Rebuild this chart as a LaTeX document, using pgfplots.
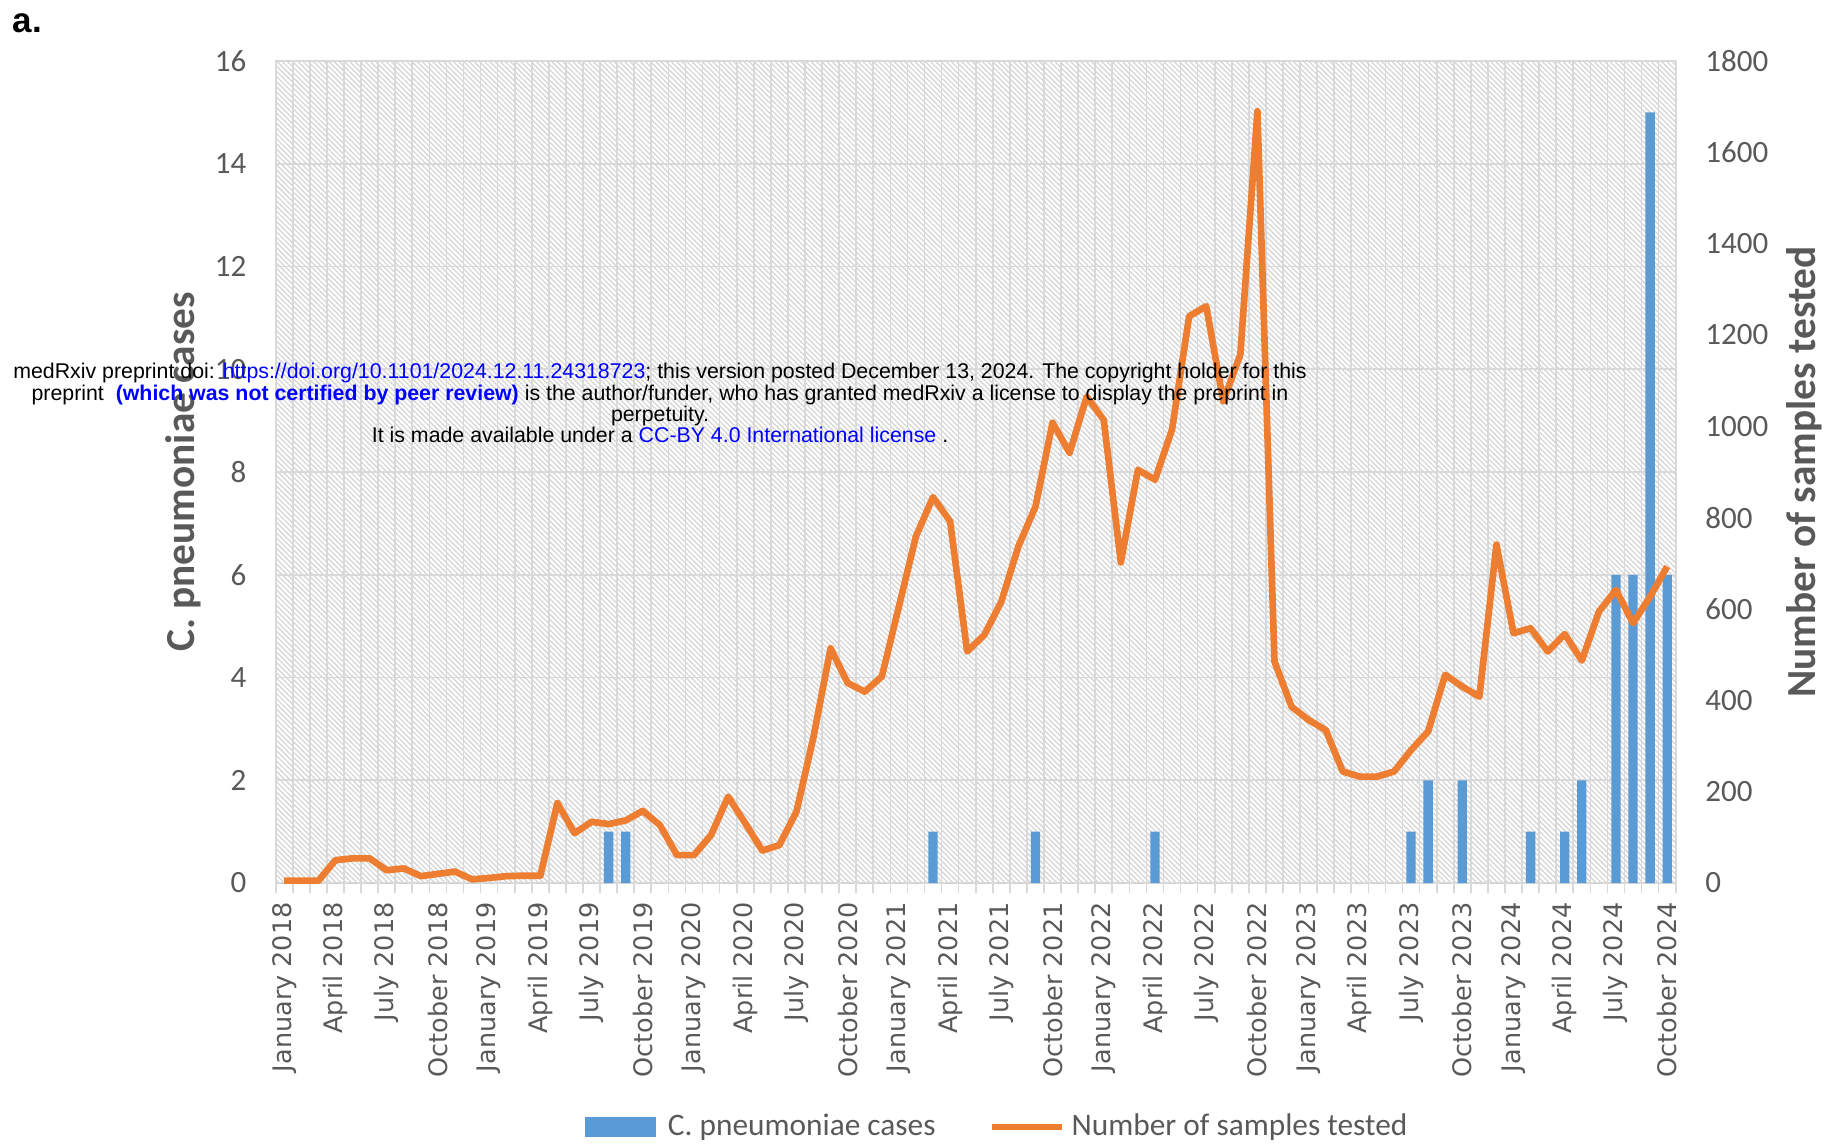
\documentclass[border=0pt]{standalone}
\usepackage{pgfplots}
\pgfplotsset{compat=1.18}
\usetikzlibrary{patterns.meta}
\usepackage{fontspec}
\setmainfont{Carlito}
\newfontfamily\dejavu{DejaVu Sans}
\newfontfamily\arialf{Liberation Sans}
\definecolor{cblue}{HTML}{5B9BD5}
\definecolor{corange}{HTML}{ED7D31}
\definecolor{gridgray}{HTML}{D9D9D9}
\definecolor{txtgray}{HTML}{595959}
\definecolor{hatch}{HTML}{D6D6D6}
\begin{document}
\begin{tikzpicture}
\useasboundingbox (-82.71pt,-78pt) rectangle (465.39pt,264.9pt);
\begin{axis}[
  at={(0,0)}, anchor=south west,
  scale only axis, width=420pt, height=246.6pt,
  xmin=-0.5, xmax=81.5, ymin=0, ymax=16,
  axis background/.style={pattern={Lines[angle=-45,distance=1.1pt,line width=0.4pt]}, pattern color=hatch},
  axis line style={draw=gridgray, line width=0.5pt},
  xtick={0,3,...,81},
  xticklabels={January 2018, April 2018, July 2018, October 2018, January 2019, April 2019, July 2019, October 2019, January 2020, April 2020, July 2020, October 2020, January 2021, April 2021, July 2021, October 2021, January 2022, April 2022, July 2022, October 2022, January 2023, April 2023, July 2023, October 2023, January 2024, April 2024, July 2024, October 2024},
  minor xtick={-0.5,0.5,...,81.5},
  ytick={0,2,...,16},
  xminorgrids=true, ymajorgrids=true, xmajorgrids=false,
  minor grid style={gridgray, line width=0.5pt},
  major grid style={gridgray, line width=0.5pt},
  xtick pos=bottom, ytick pos=left,
  tick align=outside,
  major tick length=0pt, minor tick length=3pt,
  minor tick style={gridgray, line width=0.5pt},
  /pgf/number format/assume math mode=true,
  xticklabel style={font=\dejavu\fontsize{7.65}{9}\selectfont, text=txtgray, rotate=90, anchor=east, inner sep=0pt},
  xticklabel shift=5.6pt,
  yticklabel style={font=\fontsize{9.3}{11}\selectfont, text=txtgray, inner sep=0pt},
  yticklabel shift=8.6pt,
  ylabel={C. pneumoniae cases},
  every axis y label/.style={at={(axis description cs:0,0.5)}, xshift=-27.8pt, rotate=90, anchor=center, font=\bfseries\fontsize{12.4}{14}\selectfont, text=txtgray},
]
\addplot[ybar, bar width=2.8pt, fill=cblue, draw=none] coordinates {
(0,0) (1,0) (2,0) (3,0) (4,0) (5,0) (6,0) (7,0) (8,0) (9,0)
(10,0) (11,0) (12,0) (13,0) (14,0) (15,0) (16,0) (17,0) (18,0) (19,1)
(20,1) (21,0) (22,0) (23,0) (24,0) (25,0) (26,0) (27,0) (28,0) (29,0)
(30,0) (31,0) (32,0) (33,0) (34,0) (35,0) (36,0) (37,0) (38,1) (39,0)
(40,0) (41,0) (42,0) (43,0) (44,1) (45,0) (46,0) (47,0) (48,0) (49,0)
(50,0) (51,1) (52,0) (53,0) (54,0) (55,0) (56,0) (57,0) (58,0) (59,0)
(60,0) (61,0) (62,0) (63,0) (64,0) (65,0) (66,1) (67,2) (68,0) (69,2)
(70,0) (71,0) (72,0) (73,1) (74,0) (75,1) (76,2) (77,0) (78,6) (79,6)
(80,15) (81,6)
};
\end{axis}
\begin{axis}[
  at={(0,0)}, anchor=south west,
  scale only axis, width=420pt, height=246.6pt,
  xmin=-0.5, xmax=81.5, ymin=0, ymax=1800,
  axis x line=none,
  axis y line*=right,
  y axis line style={draw=none},
  ytick={0,200,...,1800},
  major tick length=0pt,
  /pgf/number format/assume math mode=true,
  /pgf/number format/1000 sep={},
  yticklabel style={font=\fontsize{9.3}{11}\selectfont, text=txtgray, inner sep=0pt},
  yticklabel shift=8.7pt,
  ylabel={Number of samples tested},
  every axis y label/.style={at={(axis description cs:1,0.5)}, xshift=38.7pt, rotate=90, anchor=center, font=\bfseries\fontsize{12.4}{14}\selectfont, text=txtgray},
  legend columns=2,
  legend cell align=left,
  legend style={at={(axis description cs:0.5169,-0.297)}, anchor=center, draw=none, fill=none, font=\fontsize{9.4}{11}\selectfont, nodes={text=txtgray}, /tikz/every even column/.append style={column sep=13.8pt}},
]
\addlegendimage{legend image code/.code={\fill[cblue] (0pt,-2.7pt) rectangle (21pt,2.7pt); \path[draw=none,fill=none] (0pt,0pt) (22.75pt,0pt);}}
\addlegendentry{C. pneumoniae cases}
\addplot[corange, line width=2pt, line join=round, mark=none, legend image code/.code={\draw[corange, line width=2pt] (0pt,0pt) -- (21pt,0pt);}] coordinates {
(0,5) (1,5) (2,5) (3,50) (4,54) (5,54) (6,28) (7,32) (8,15) (9,20)
(10,25) (11,8) (12,11) (13,15) (14,16) (15,16) (16,175) (17,109) (18,134) (19,129)
(20,137) (21,158) (22,127) (23,61) (24,61) (25,105) (26,189) (27,131) (28,71) (29,83)
(30,156) (31,320) (32,514) (33,438) (34,419) (35,452) (36,605) (37,759) (38,845) (39,792)
(40,507) (41,543) (42,616) (43,737) (44,824) (45,1008) (46,942) (47,1065) (48,1014) (49,702)
(50,905) (51,883) (52,993) (53,1241) (54,1263) (55,1055) (56,1157) (57,1690) (58,485) (59,386)
(60,357) (61,335) (62,244) (63,233) (64,233) (65,244) (66,291) (67,332) (68,456) (69,430)
(70,408) (71,741) (72,547) (73,558) (74,507) (75,545) (76,487) (77,594) (78,642) (79,569)
(80,627) (81,693)
};
\addlegendentry{Number of samples tested}
\end{axis}
\node[anchor=base west, inner sep=0pt, font=\arialf\bfseries\fontsize{10.5}{12}\selectfont] at (-79.1pt,255pt) {a.};
\begin{scope}[every node/.style={anchor=base, inner sep=0pt, font=\arialf\fontsize{6.4}{6.4}\selectfont}]
\node at (115.3pt,151.35pt) {medRxiv preprint doi: \textcolor{blue}{https://doi.org/10.1101/2024.12.11.24318723}; this version posted December 13, 2024. The copyright holder for this};
\node at (115.3pt,144.75pt) {preprint \ \textcolor{blue}{\bfseries(which was not certified by peer review)} is the author/funder, who has granted medRxiv a license to display the preprint in};
\node at (115.3pt,138.45pt) {perpetuity.};
\node at (115.3pt,132.15pt) {It is made available under a \textcolor{blue}{CC-BY 4.0 International license} .};
\end{scope}
\end{tikzpicture}
\end{document}
